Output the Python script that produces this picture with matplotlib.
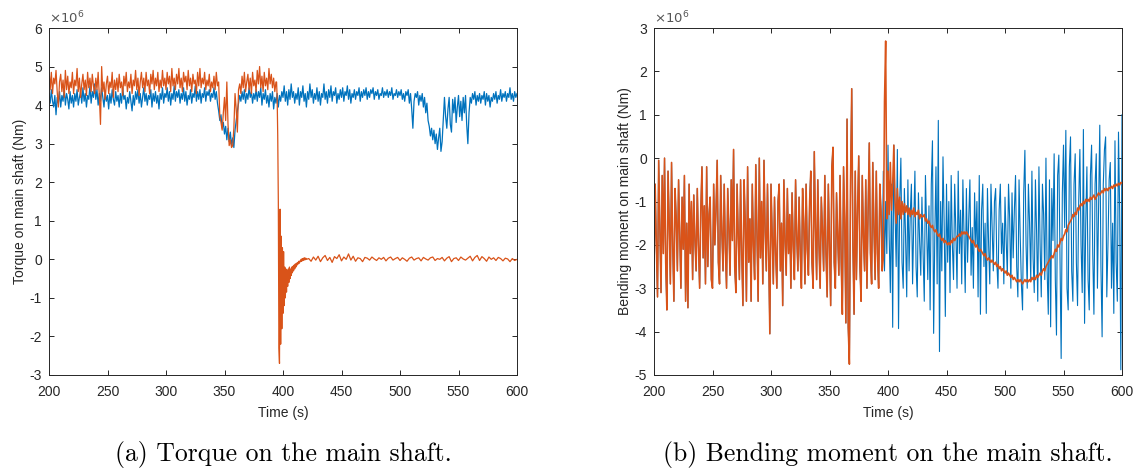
import numpy as np
import matplotlib
matplotlib.use("Agg")
import matplotlib.pyplot as plt

plt.rcParams['font.family'] = ['Liberation Sans', 'DejaVu Sans']
plt.rcParams['axes.unicode_minus'] = False

BLUE = '#0072BD'
ORANGE = '#D95319'

# ---------------- Torque (x1e6 Nm) ----------------
torque_blue_t0, torque_blue_dt = 200, 1
torque_blue = [
    4.30, 4.05, 4.40, 4.10, 3.95, 4.25, 3.75, 4.20, 4.05, 4.35,
    3.95, 4.25, 4.10, 4.45, 4.00, 4.30, 4.15, 3.90, 4.35, 4.05,
    4.25, 3.95, 4.30, 4.10, 4.40, 4.00, 4.20, 4.35, 4.05, 4.45,
    4.10, 4.30, 3.95, 4.25, 4.15, 4.50, 4.05, 4.35, 4.20, 4.55,
    4.15, 4.40, 4.00, 4.30, 4.10, 4.45, 4.20, 3.95, 4.35, 4.10,
    4.25, 3.90, 4.30, 4.05, 4.40, 4.15, 4.00, 4.35, 4.10, 4.25,
    3.95, 4.30, 4.05, 4.45, 4.15, 4.25, 3.90, 4.20, 4.05, 4.35,
    4.10, 3.85, 4.25, 4.00, 4.35, 4.15, 4.40, 4.05, 4.30, 3.95,
    4.20, 4.45, 4.10, 4.30, 4.00, 4.25, 4.15, 4.40, 3.95, 4.30,
    4.10, 4.35, 4.05, 4.25, 3.90, 4.30, 4.15, 4.45, 4.05, 4.30,
    4.20, 4.45, 4.10, 4.35, 4.00, 4.30, 4.15, 4.50, 4.10, 4.35,
    4.20, 4.40, 4.05, 4.30, 4.15, 4.45, 4.10, 4.35, 4.00, 4.25,
    4.15, 4.40, 4.05, 4.30, 4.20, 4.50, 4.10, 4.35, 4.15, 4.40,
    4.05, 4.30, 4.20, 4.45, 4.10, 4.35, 4.25, 4.40, 4.10, 4.30,
    4.20, 4.45, 4.15, 4.35, 4.05, 3.85, 3.60, 3.75, 3.40, 3.55,
    3.25, 3.45, 3.10, 3.40, 3.05, 3.30, 2.95, 3.15, 2.90, 3.35,
    3.60, 3.85, 4.05, 4.25, 4.10, 4.35, 4.15, 4.40, 4.05, 4.30,
    4.15, 4.45, 4.20, 4.35, 4.05, 4.30, 4.15, 4.40, 4.10, 4.35,
    4.20, 4.45, 4.00, 4.30, 4.15, 4.40, 4.05, 4.25, 3.95, 4.30,
    4.10, 4.35, 3.90, 4.20, 4.05, 4.30, 3.95, 4.25, 4.10, 4.35,
    4.20, 4.50, 4.10, 4.35, 4.00, 4.40, 4.15, 4.55, 4.20, 4.35,
    4.05, 4.30, 4.15, 4.45, 4.00, 4.35, 4.20, 4.50, 4.10, 4.30,
    3.95, 4.35, 4.15, 4.55, 4.20, 4.40, 4.05, 4.30, 4.15, 4.45,
    4.10, 4.35, 4.00, 4.30, 4.20, 4.55, 4.15, 4.35, 4.05, 4.40,
    4.20, 4.50, 4.10, 4.35, 4.25, 4.45, 4.05, 4.30, 4.15, 4.40,
    4.20, 4.45, 4.10, 4.35, 4.25, 4.50, 4.15, 4.40, 4.05, 4.30,
    4.20, 4.40, 4.15, 4.35, 4.25, 4.45, 4.10, 4.35, 4.20, 4.40,
    4.25, 4.45, 4.15, 4.35, 4.20, 4.40, 4.30, 4.45, 4.15, 4.35,
    4.25, 4.40, 4.15, 4.30, 4.25, 4.45, 4.20, 4.35, 4.25, 4.40,
    4.20, 4.35, 4.25, 4.45, 4.15, 4.30, 4.25, 4.40, 4.20, 4.35,
    4.25, 4.40, 4.15, 4.30, 4.10, 4.35, 4.25, 4.40, 4.05, 4.30,
    3.90, 3.40, 4.10, 4.30, 4.20, 4.35, 4.00, 4.25, 4.10, 4.30,
    3.95, 4.20, 3.80, 4.05, 3.60, 3.45, 3.20, 3.40, 3.10, 3.35,
    3.00, 3.25, 2.85, 3.15, 3.40, 2.80, 3.05, 3.60, 4.20, 3.70,
    3.40, 3.90, 4.20, 3.50, 3.30, 4.15, 3.80, 4.20, 3.55, 3.95,
    4.25, 3.70, 4.10, 3.60, 4.20, 3.80, 4.25, 3.50, 3.00, 3.80,
    4.20, 4.05, 4.30, 4.15, 4.35, 4.00, 4.25, 4.10, 4.30, 4.05,
    4.25, 4.15, 4.35, 4.00, 4.30, 4.10, 4.25, 3.95, 4.20, 4.10,
    4.30, 4.15, 4.35, 4.05, 4.25, 4.15, 4.40, 4.10, 4.30, 4.20,
    4.35, 4.10, 4.30, 4.20, 4.45, 4.15, 4.30, 4.10, 4.35, 4.20,
    4.30,
]

torque_orange_pre_t0, torque_orange_pre_dt = 200, 1
torque_orange_pre = [
    4.95, 4.40, 4.85, 4.30, 4.70, 4.55, 4.90, 4.35, 3.95, 4.60,
    4.80, 4.35, 4.65, 4.20, 4.90, 4.40, 4.75, 4.30, 4.60, 4.45,
    4.85, 4.30, 4.65, 4.50, 4.95, 4.35, 4.70, 4.20, 4.55, 4.80,
    4.40, 4.65, 4.25, 4.85, 4.45, 4.70, 4.35, 4.80, 4.50, 4.30,
    4.70, 4.40, 4.85, 4.25, 3.50, 5.00, 4.35, 4.60, 4.15, 4.55,
    4.75, 4.30, 4.60, 4.45, 4.85, 4.20, 4.65, 4.40, 4.70, 4.35,
    4.80, 4.45, 4.60, 4.25, 4.75, 4.50, 4.85, 4.35, 4.60, 4.45,
    4.80, 4.30, 4.65, 4.50, 4.90, 4.40, 4.70, 4.25, 4.60, 4.85,
    4.45, 4.70, 4.35, 4.85, 4.50, 4.65, 4.30, 4.80, 4.55, 4.90,
    4.40, 4.70, 4.50, 4.85, 4.35, 4.65, 4.45, 4.90, 4.50, 4.70,
    4.40, 4.85, 4.55, 4.75, 4.35, 4.95, 4.50, 4.70, 4.40, 4.80,
    4.55, 4.95, 4.45, 4.70, 4.35, 4.85, 4.60, 4.75, 4.40, 4.90,
    4.50, 4.70, 4.35, 4.80, 4.55, 4.65, 4.30, 4.85, 4.50, 4.95,
    4.45, 4.70, 4.55, 4.85, 4.40, 4.65, 4.50, 4.80, 4.35, 4.60,
    4.45, 4.75, 4.40, 4.85, 4.50, 4.60, 3.70, 3.55, 3.35, 3.80,
    4.20, 3.60, 4.60, 3.50, 2.95, 3.10, 2.90, 2.95, 3.40, 4.30,
    3.90, 3.30, 4.40, 4.55, 4.30, 4.75, 4.45, 4.85, 4.35, 4.60,
    4.80, 4.40, 4.70, 4.30, 4.85, 4.50, 4.65, 4.35, 4.90, 4.55,
    5.00, 4.45, 4.75, 4.35, 4.85, 4.50, 4.70, 4.40, 4.95, 4.55,
    4.80, 4.45, 4.70, 4.35, 4.60,
]

torque_orange_drop_t0, torque_orange_drop_dt = 394.5, 0.5
torque_orange_drop = [
    4.60, 4.20, 3.20, 1.50, -2.30, -2.70, 1.30, -2.20, 0.60, -1.80, 0.30, -1.40, 0.20, -1.20, -0.20, -1.00, -0.25, -0.85, -0.30, -0.70,
    -0.25, -0.60, -0.20, -0.50, -0.25, -0.42, -0.20, -0.35, -0.18, -0.30, -0.15, -0.25, -0.12, -0.20, -0.10, -0.15, -0.08, -0.12, -0.05, -0.10,
    -0.04, -0.06, 0.00, -0.05, 0.02, -0.03, 0.03, -0.02, 0.04, -0.01, 0.03, 0.00,
]

torque_orange_post_t0, torque_orange_post_dt = 422, 2
torque_orange_post = [
    0.02, -0.05, 0.06, -0.02, 0.08, -0.06, 0.04, 0.10, -0.03, 0.05,
    -0.08, 0.07, 0.02, 0.12, -0.04, 0.06, 0.00, 0.14, -0.02, 0.08,
    -0.05, 0.04, 0.02, -0.06, 0.05, 0.03, -0.02, 0.06, 0.01, -0.03,
    0.04, 0.00, 0.05, -0.04, 0.03, 0.06, -0.02, 0.02, 0.05, -0.03,
    0.04, 0.00, -0.05, 0.03, 0.06, -0.02, 0.02, 0.04, -0.04, 0.05,
    0.01, -0.02, 0.04, 0.06, -0.03, 0.02, 0.00, 0.05, -0.04, 0.03,
    0.07, -0.06, 0.02, 0.04, -0.03, 0.06, 0.01, -0.02, 0.03, 0.08,
    -0.04, 0.05, 0.10, -0.03, 0.07, 0.02, -0.05, 0.06, 0.00, 0.04,
    -0.03, 0.05, 0.02, -0.04, 0.03, 0.01, -0.06, 0.02, -0.03, 0.00,
]

# ---------------- Bending moment (x1e6 Nm) ----------------
bend_pre_t0, bend_dt = 200, 1
bend_pre = [
    -2.6, -0.6, -2.0, -3.2, -0.05, -1.6, -3.1, -0.4, -2.2, -0.0,
    -2.4, -3.5, -0.3, -1.5, -2.9, -0.1, -2.0, -3.3, -0.7, -1.4,
    -2.6, -0.5, -1.7, -3.0, -0.9, -2.1, -0.4, -3.3, -1.5, -3.45,
    -0.6, -2.2, -1.0, -2.8, -0.85, -1.9, -2.6, -0.7, -2.0, -3.0,
    -1.2, -0.2, -2.3, -1.1, -2.9, -0.2, -2.5, -1.3, -0.9, -2.8,
    -3.0, -0.6, -2.0, -1.2, -0.05, -2.4, -2.9, -0.4, -1.7, -2.6,
    -0.6, -2.1, -3.0, -0.7, -1.6, -2.7, -0.5, -1.9, 0.2, -2.5,
    -3.1, -0.6, -1.8, -2.8, -0.5, -2.2, -3.4, -0.5, -1.5, -3.3,
    -0.2, -2.4, -1.4, -3.3, -0.6, -2.0, -2.8, -0.15, -1.8, -3.3,
    -0.0, -2.3, -1.0, -2.9, -0.05, -1.7, -2.6, -0.6, -2.2, -4.05,
    -0.6, -1.8, -2.9, -0.9, -2.2, -3.0, -1.0, -0.6, -2.6, -1.5,
    -3.4, -0.5, -1.9, -2.7, -0.7, -2.2, -1.3, -3.0, -0.8, -2.0,
    -2.8, -0.5, -1.8, -2.6, -0.9, -2.2, -3.0, -0.7, -1.5, -2.9,
    -0.6, -2.1, -2.7, -1.0, -0.3, -2.4, -3.0, 0.15, -1.6, -2.8,
    -0.5, -2.0, -3.0, -0.9, -1.7, -2.6, -0.4, -2.2, -3.2, -0.6,
    -2.0, -3.4, -0.2, 0.25, -2.4, -3.0, -0.8, -1.8, -2.7, -0.4,
    -2.4, -3.6, -0.2, -1.5, -3.8, 0.9, -3.9, -4.75, -0.5, 1.6,
    -2.0, -3.6, -0.3, -2.8, -1.2, 0.05, -2.5, -3.3, -0.4, -1.8,
    -2.6, -0.5, -3.0, -1.2, 0.35, -2.2, -2.9, -0.1, -1.6, -2.8,
    -0.3, -2.2, -3.0, -0.6, -1.2, -2.6,
]

bend_blue_post_t0 = 396
bend_blue_post = [
    -0.3, -2.6, -1.0, -2.2,
    0.3, -1.8, -3.1, -0.6, -3.9, 0.3, -1.2, -2.5, 0.2, -3.93,
    -1.0, 0.0, -2.4, -3.0, -0.7, -1.8, -3.2, -0.5, -2.6, -1.3,
    -0.6, -2.9, -1.5, -0.3, -2.5, -3.2, -0.8, -1.9, -2.7, -0.9,
    -2.2, -3.3, -0.4, -1.6, -2.8, -1.1, -3.5, -0.6, 0.4, -4.04,
    -1.8, -0.2, -2.9, 0.87, -4.46, -1.0, -2.6, 0.03, -1.5, -3.65,
    -0.6, -2.4, -1.0, -3.1, -0.4, -2.0, -2.8, -0.6, -1.7, -3.0,
    -0.3, -2.2, -1.2, -2.9, -0.5, -1.8, -3.1, -0.7, -2.4, -1.4,
    -0.5, -2.7, -1.6, -3.0, -0.8, -2.0, -1.0, -3.2, -0.4, -3.6,
    -1.2, -0.6, -2.5, -1.5, -3.58, -0.7, -2.0, -2.9, -0.6, -1.6,
    -2.6, -1.0, -0.7, -2.4, -3.0, -1.2, -0.6, -2.2, -1.5, -2.9,
    -0.9, -1.9, -2.7, -0.6, -1.4, -3.0, -0.8, -2.3, -1.2, -0.4,
    -2.5, -3.2, -0.5, -1.8, -2.9, -3.5, -0.8, 0.18, -2.0, -3.0,
    -0.6, -1.5, -2.8, -0.3, -2.3, -3.1, -0.5, -1.7, -3.3, -0.2,
    -2.0, -3.2, -0.6, -1.3, -2.8, 0.0, -2.6, -3.6, -0.5, -3.89,
    -0.7, -1.9, 0.1, -2.8, -4.08, -0.4, 0.07, -2.3, -4.62, -0.8,
    0.3, -1.6, 0.64, -3.0, -3.5, -0.2, 0.49, -2.6, -3.3, -0.6,
    0.1, -2.4, -3.4, -1.0, 0.2, -2.0, -3.1, 0.66, -3.81, -1.5,
    -0.2, -2.8, -3.5, -0.4, 0.3, -2.2, -3.6, -0.6, 0.1, -3.0,
    -1.2, 0.76, -2.5, -4.12, -0.6, 0.2, 0.49, -3.2, -2.0, -0.5,
    -0.1, -3.0, -1.5, -3.58, 0.4, -2.4, -3.3, 0.6, -1.2, -4.88,
    1.0,
]

bend_orange_post_t0 = 396
bend_orange_post = [
    -2.3, 1.3, 2.7, -1.4,
    -0.3, -1.3, -0.1, -1.2, -0.6, 0.3, -1.0, -1.5, -0.7, -1.3,
    -0.9, -1.4, -1.0, -1.3, -1.05, -1.25, -1.1, -1.3, -1.15, -1.35,
    -1.2, -1.3, -1.15, -1.35, -1.25, -1.3, -1.2, -1.4, -1.3, -1.35,
    -1.35, -1.3, -1.45, -1.4, -1.5, -1.45, -1.55, -1.6, -1.55, -1.65,
    -1.7, -1.65, -1.75, -1.8, -1.75, -1.85, -1.9, -1.85, -1.95, -1.9,
    -1.95, -2.0, -1.95, -2.0, -1.9, -1.95, -1.85, -1.9, -1.85, -1.8,
    -1.8, -1.75, -1.8, -1.7, -1.75, -1.7, -1.75, -1.7, -1.75, -1.8,
    -1.85, -1.9, -1.95, -1.9, -2.0, -2.05, -2.0, -2.1, -2.15, -2.1,
    -2.15, -2.2, -2.25, -2.2, -2.3, -2.35, -2.3, -2.35, -2.4, -2.35,
    -2.4, -2.45, -2.4, -2.5, -2.45, -2.55, -2.5, -2.6, -2.55, -2.6,
    -2.65, -2.6, -2.7, -2.65, -2.7, -2.75, -2.7, -2.8, -2.75, -2.8,
    -2.85, -2.8, -2.85, -2.8, -2.85, -2.9, -2.85, -2.8, -2.85, -2.8,
    -2.85, -2.8, -2.85, -2.75, -2.8, -2.75, -2.8, -2.7, -2.75, -2.7,
    -2.65, -2.7, -2.6, -2.55, -2.6, -2.5, -2.45, -2.4, -2.35, -2.3,
    -2.25, -2.3, -2.2, -2.1, -2.15, -2.0, -2.05, -1.95, -1.85, -1.9,
    -1.8, -1.75, -1.65, -1.7, -1.55, -1.5, -1.45, -1.4, -1.3, -1.35,
    -1.25, -1.3, -1.15, -1.2, -1.1, -1.05, -1.1, -1.0, -1.05, -0.95,
    -1.0, -0.95, -1.0, -0.9, -0.95, -0.9, -0.85, -0.95, -0.9, -0.85,
    -0.8, -0.85, -0.8, -0.75, -0.8, -0.7, -0.75, -0.7, -0.75, -0.68,
    -0.7, -0.65, -0.7, -0.62, -0.66, -0.6, -0.64, -0.58, -0.62, -0.56,
    -0.58,
]

x_ticks = [200, 250, 300, 350, 400, 450, 500, 550, 600]
torque_yticks = [-3, -2, -1, 0, 1, 2, 3, 4, 5, 6]
bend_yticks = [-5, -4, -3, -2, -1, 0, 1, 2, 3]


def times(t0, dt, vals):
    return t0 + dt * np.arange(len(vals))


def style(ax, yticks):
    ax.set_xlim(200, 600)
    ax.set_ylim(yticks[0], yticks[-1])
    ax.set_xticks(x_ticks)
    ax.set_yticks(yticks)
    ax.tick_params(direction='in', length=3.5, width=0.7, top=True, right=True,
                   labelsize=10, colors='#262626')
    ax.tick_params(axis='x', pad=7)
    ax.tick_params(axis='y', pad=5)
    for s in ax.spines.values():
        s.set_color('#262626')
        s.set_linewidth(0.7)
    ax.set_xlabel('Time (s)', fontsize=10, color='#262626', labelpad=5)


fig = plt.figure(figsize=(11.36, 4.68), dpi=100)
ax1 = fig.add_axes([49 / 1136, 1 - 375 / 468, 468 / 1136, 347 / 468])
ax2 = fig.add_axes([654 / 1136, 1 - 375 / 468, 468 / 1136, 347 / 468])

lw = 0.9
ax1.plot(times(torque_blue_t0, torque_blue_dt, torque_blue), torque_blue, color=BLUE, lw=lw)
t_or = np.concatenate([
    times(torque_orange_pre_t0, torque_orange_pre_dt, torque_orange_pre),
    times(torque_orange_drop_t0, torque_orange_drop_dt, torque_orange_drop),
    times(torque_orange_post_t0, torque_orange_post_dt, torque_orange_post),
])
v_or = np.concatenate([torque_orange_pre, torque_orange_drop, torque_orange_post])
ax1.plot(t_or, v_or, color=ORANGE, lw=lw)
style(ax1, torque_yticks)
ax1.set_ylabel('Torque on main shaft (Nm)', fontsize=10, color='#262626', labelpad=2)

b_blue = np.concatenate([bend_pre, bend_blue_post])
b_or = np.concatenate([bend_pre, bend_orange_post])
ax2.plot(times(bend_pre_t0, bend_dt, b_blue), b_blue, color=BLUE, lw=0.8)
ax2.plot(times(bend_pre_t0, bend_dt, b_or), b_or, color=ORANGE, lw=1.15)
style(ax2, bend_yticks)
ax2.set_ylabel('Bending moment on main shaft (Nm)', fontsize=10, color='#262626', labelpad=2)

for ax in (ax1, ax2):
    ax.text(0.0, 1.005, r'$\times10^{6}$', transform=ax.transAxes, fontsize=9.5,
            color='#555555', ha='left', va='bottom')

fig.text((49 + 517) / 2 / 1136, 1 - 455 / 468, '(a) Torque on the main shaft.',
         family='cmr10', fontsize=18.5, ha='center', va='center')
fig.text((654 + 1122) / 2 / 1136, 1 - 455 / 468, '(b) Bending moment on the main shaft.',
         family='cmr10', fontsize=18.5, ha='center', va='center')

fig.savefig('out.png', dpi=100)
